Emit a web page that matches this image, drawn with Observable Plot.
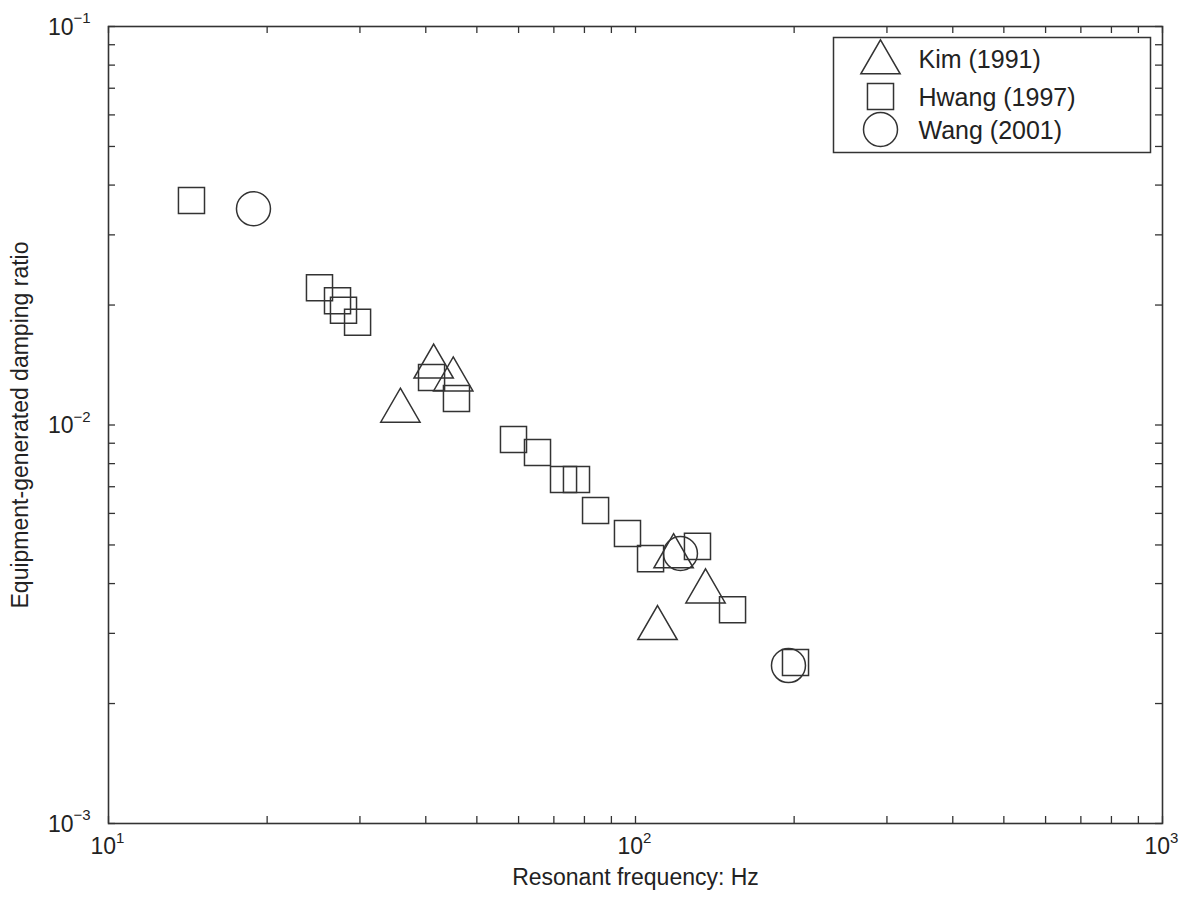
<!DOCTYPE html>
<html>
<head>
<meta charset="utf-8">
<script src="https://cdn.jsdelivr.net/npm/d3@7"></script>
<script src="https://cdn.jsdelivr.net/npm/@observablehq/plot@0.6"></script>
<style>
  html, body { margin: 0; padding: 0; background: #fff; }
  #chart svg { display: block; }
</style>
</head>
<body>
<div id="chart"></div>
<script>
// ---- Data ----
const kimFreq   = [41.4, 45.1, 35.8, 118.1, 135.8, 110.1];
const kimDamp   = [0.0140, 0.0130, 0.01085, 0.00468, 0.00382, 0.00309];
const hwangFreq = [14.37, 25.14, 27.20, 27.92, 29.69, 41.02, 45.74, 58.68, 65.17, 73.02, 77.27, 83.99, 96.56, 106.8, 131.1, 152.8, 201.2];
const hwangDamp = [0.0366, 0.0221, 0.0205, 0.0194, 0.0181, 0.01316, 0.01166, 0.0092, 0.00853, 0.0073, 0.0073, 0.0061, 0.00534, 0.00462, 0.00496, 0.00344, 0.002535];
const wangFreq  = [18.84, 121.7, 195.1];
const wangDamp  = [0.0349, 0.00476, 0.00249];

const seriesNames = ["Kim (1991)", "Hwang (1997)", "Wang (2001)"];
const seriesSymbols = ["triangle", "square", "circle"];

const xMajor = [10, 100, 1000];
const xExp = ["1", "2", "3"];
const yMajor = [0.1, 0.01, 0.001];
const yExp = ["\u22121", "\u22122", "\u22123"];
const xTicks = [10,20,30,40,50,60,70,80,90,100,200,300,400,500,600,700,800,900,1000];
const yTicks = [0.001,0.002,0.003,0.004,0.005,0.006,0.007,0.008,0.009,0.01,0.02,0.03,0.04,0.05,0.06,0.07,0.08,0.09,0.1];

const xLabel = "Resonant frequency: Hz";
const yLabel = "Equipment-generated damping ratio";

// ---- Build ----
const zip = (xs, ys) => xs.map((x, i) => ({x, y: ys[i]}));
const kim = zip(kimFreq, kimDamp);
const hwang = zip(hwangFreq, hwangDamp);
const wang = zip(wangFreq, wangDamp);

const W = 1191, H = 902;
const mL = 108, mR = 29, mT = 26, mB = 79;
const fw = W - mL - mR, fh = H - mT - mB;
const tick = 7;
const ink = "#333";
const txt = "#222";
const font = "Liberation Sans, Arial, sans-serif";
const symR = {triangle: 14.6, square: 14.7, circle: 17};
const markStyle = {fill: "none", stroke: ink, strokeWidth: 1.5};
const T = {fill: txt, fontFamily: font, lineAnchor: "middle"};

const legendDy = [36, 70, 103];
const legendTextDy = [33, 71, 104];

const marks = [
  // ticks on all four sides, pointing inward
  Plot.tickX(xTicks, {x: d => d, insetTop: fh - tick, stroke: ink, strokeWidth: 1.3}),
  Plot.tickX(xTicks, {x: d => d, insetBottom: fh - tick, stroke: ink, strokeWidth: 1.3}),
  Plot.tickY(yTicks, {y: d => d, insetRight: fw - tick, stroke: ink, strokeWidth: 1.3}),
  Plot.tickY(yTicks, {y: d => d, insetLeft: fw - tick, stroke: ink, strokeWidth: 1.3}),
  Plot.frame({stroke: ink, strokeWidth: 1.6}),
  // x tick labels 10^n
  Plot.text(xMajor, {x: d => d, frameAnchor: "bottom", dy: 23, dx: 7.5, textAnchor: "end",
    text: () => "10", fontSize: 23, ...T}),
  Plot.text(xMajor, {x: d => d, frameAnchor: "bottom", dy: 15, dx: 7.5, textAnchor: "start",
    text: (d, i) => xExp[i], fontSize: 15, ...T}),
  // y tick labels 10^-n
  Plot.text(yMajor, {y: d => d, frameAnchor: "left", dx: -35, dy: 1, textAnchor: "end",
    text: () => "10", fontSize: 23, ...T}),
  Plot.text(yMajor, {y: d => d, frameAnchor: "left", dx: -35, dy: -8, textAnchor: "start",
    text: (d, i) => yExp[i], fontSize: 15, ...T}),
  // axis titles
  Plot.text([xLabel], {frameAnchor: "bottom", dy: 54, textAnchor: "middle", text: d => d, fontSize: 23, ...T}),
  Plot.text([yLabel], {frameAnchor: "left", dx: -88, rotate: -90, textAnchor: "middle", text: d => d, fontSize: 23, ...T}),
  // data
  Plot.dot(hwang, {x: "x", y: "y", symbol: "square", r: symR.square, ...markStyle}),
  Plot.dot(kim, {x: "x", y: "y", symbol: "triangle", r: symR.triangle, ...markStyle}),
  Plot.dot(wang, {x: "x", y: "y", symbol: "circle", r: symR.circle, ...markStyle}),
  // legend box
  Plot.frame({insetLeft: 833 - mL, insetRight: (W - mR) - 1150, insetTop: 37 - mT, insetBottom: (H - mB) - 152,
    stroke: ink, strokeWidth: 1.5, fill: "white"})
];
seriesNames.forEach((name, i) => {
  marks.push(Plot.dot([name], {frameAnchor: "top-left", dx: 772, dy: legendDy[i],
    symbol: seriesSymbols[i], r: symR[seriesSymbols[i]], ...markStyle}));
  marks.push(Plot.text([name], {frameAnchor: "top-left", dx: 810, dy: legendTextDy[i], textAnchor: "start",
    text: d => d, fontSize: 25, ...T}));
});

const chart = Plot.plot({
  width: W, height: H,
  marginLeft: mL, marginRight: mR, marginTop: mT, marginBottom: mB,
  style: {background: "white", fontFamily: font},
  x: {type: "log", domain: [10, 1000], axis: null},
  y: {type: "log", domain: [0.001, 0.1], axis: null},
  marks
});
document.getElementById("chart").appendChild(chart);
</script>
</body>
</html>
